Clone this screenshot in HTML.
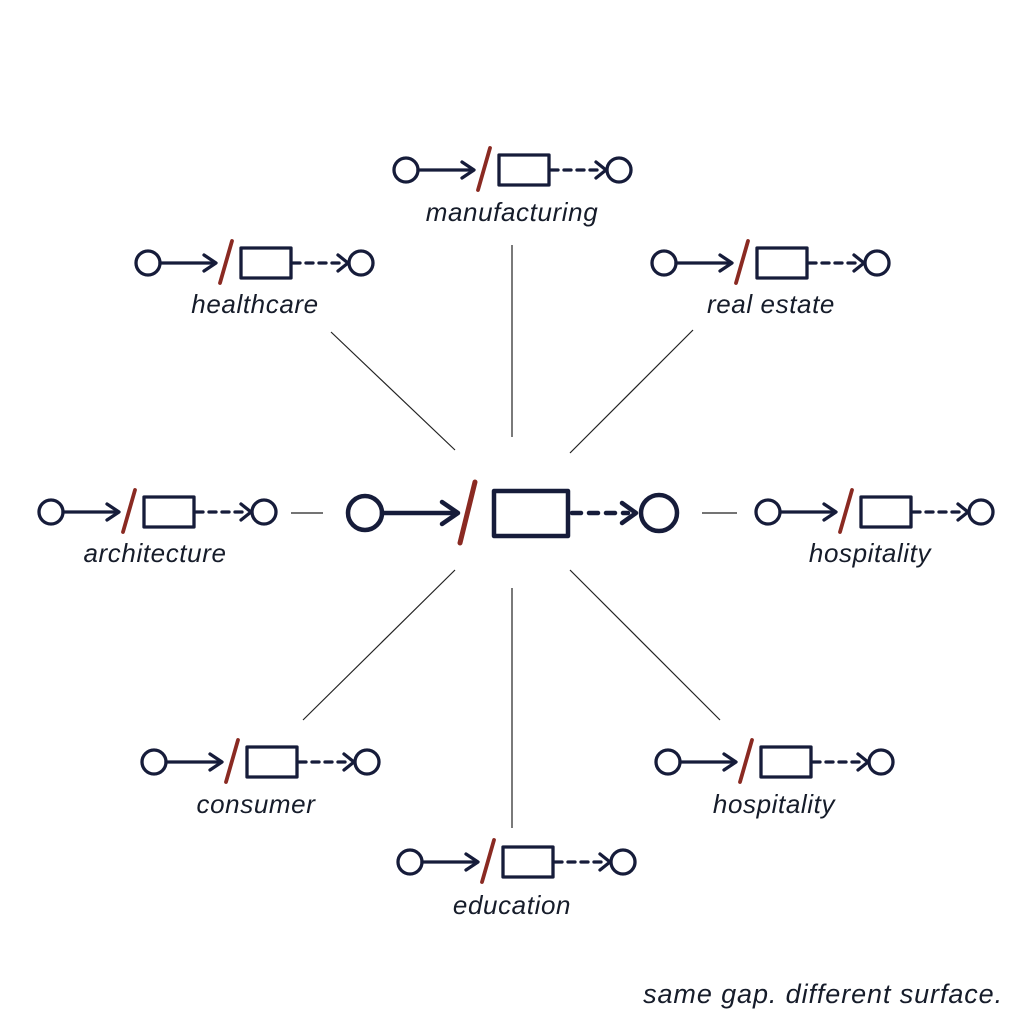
<!DOCTYPE html>
<html><head><style>body{margin:0;background:#fff}svg{display:block}</style></head><body>
<svg width="1024" height="1024" viewBox="0 0 1024 1024" xmlns="http://www.w3.org/2000/svg">
<defs>
<g id="u" fill="none" stroke="#161c3a" stroke-width="3.3" stroke-linecap="round" stroke-linejoin="round">
<circle cx="0" cy="0" r="12"/>
<line x1="12" y1="0" x2="67" y2="0"/>
<polyline points="56,-8 68,0 56,8"/>
<line x1="84" y1="-22" x2="72" y2="20" stroke="#8a2a22" stroke-width="3.8"/>
<rect x="93" y="-15" width="50" height="30"/>
<line x1="145" y1="0" x2="196" y2="0" stroke-dasharray="7,6"/>
<polyline points="190,-8 200,0 190,8"/>
<circle cx="213" cy="0" r="12"/>
</g>
</defs>
<g stroke="#222" stroke-width="1.2">
<line x1="512" y1="245" x2="512" y2="437"/>
<line x1="331" y1="332" x2="455" y2="450"/>
<line x1="693" y1="330" x2="570" y2="453"/>
<line x1="291" y1="513" x2="323" y2="513"/>
<line x1="702" y1="513" x2="737" y2="513"/>
<line x1="455" y1="570" x2="303" y2="720"/>
<line x1="512" y1="588" x2="512" y2="828"/>
<line x1="570" y1="570" x2="720" y2="720"/>
</g>
<g fill="none" stroke="#161c3a" stroke-width="4.5" stroke-linecap="round" stroke-linejoin="round">
<circle cx="365" cy="513" r="17"/>
<line x1="382" y1="513" x2="456" y2="513"/>
<polyline points="442,502 458,513 442,524"/>
<line x1="475" y1="482" x2="460" y2="543" stroke="#8a2a22" stroke-width="5"/>
<rect x="494" y="491" width="74" height="45"/>
<line x1="572" y1="513" x2="628" y2="513" stroke-dasharray="9,8"/>
<polyline points="622,503 636,513 622,523"/>
<circle cx="659" cy="513" r="18"/>
</g>
<use href="#u" x="406" y="170"/>
<use href="#u" x="148" y="263"/>
<use href="#u" x="664" y="263"/>
<use href="#u" x="51" y="512"/>
<use href="#u" x="768" y="512"/>
<use href="#u" x="154" y="762"/>
<use href="#u" x="668" y="762"/>
<use href="#u" x="410" y="862"/>
<g font-family="Liberation Sans, sans-serif" font-style="italic" font-size="26" letter-spacing="0.6" fill="#161c2a" text-anchor="middle">
<text x="512" y="221">manufacturing</text>
<text x="255" y="313">healthcare</text>
<text x="771" y="313">real estate</text>
<text x="155" y="562">architecture</text>
<text x="870" y="562">hospitality</text>
<text x="256" y="813">consumer</text>
<text x="774" y="813">hospitality</text>
<text x="512" y="914">education</text>
<text x="1003" y="1003" text-anchor="end" font-size="27" letter-spacing="0.9">same gap. different surface.</text>
</g>
</svg>
</body></html>
